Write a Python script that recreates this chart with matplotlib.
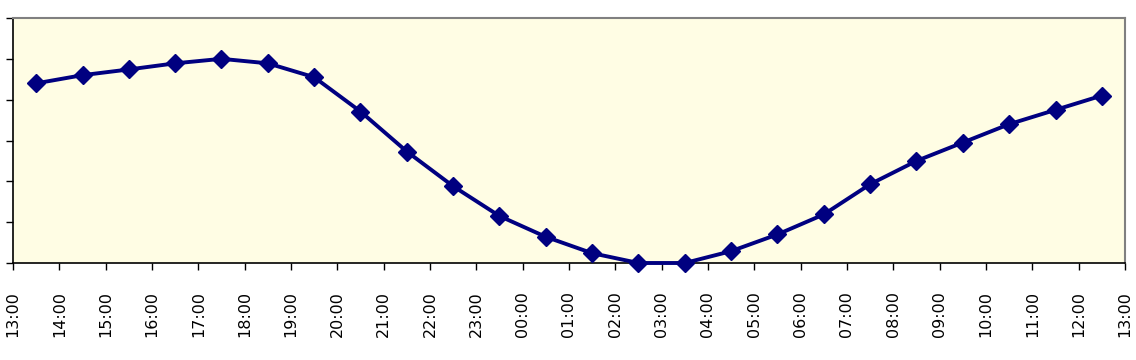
import matplotlib
matplotlib.use("Agg")
import matplotlib.pyplot as plt
import numpy as np

hours = ["13:00", "14:00", "15:00", "16:00", "17:00", "18:00", "19:00", "20:00",
         "21:00", "22:00", "23:00", "00:00", "01:00", "02:00", "03:00", "04:00",
         "05:00", "06:00", "07:00", "08:00", "09:00", "10:00", "11:00", "12:00", "13:00"]
values = [4.40, 4.60, 4.74, 4.89, 5.00, 4.89, 4.55, 3.71, 2.73, 1.88, 1.15, 0.64,
          0.24, 0.00, 0.00, 0.29, 0.70, 1.19, 1.93, 2.50, 2.95, 3.40, 3.75, 4.10]

fig = plt.figure(figsize=(11.36, 3.6), dpi=100)
ax = fig.add_axes([13/1136, 1 - 263/360, (1125 - 13)/1136, (263 - 18)/360])
ax.set_facecolor("#FFFDE4")

x = np.arange(len(values)) + 0.5
ax.plot(x, values, color="#000080", lw=2.8, marker="D", markersize=9.5,
        markerfacecolor="#000080", markeredgecolor="#000080", clip_on=False, zorder=3)

ax.set_xlim(0, 24)
ax.set_ylim(0, 6)
ax.set_xticks(np.arange(len(hours)))
ax.set_xticklabels(hours, rotation=90, fontsize=11.5, family="DejaVu Sans")
ax.set_yticks(np.arange(0, 7))
ax.set_yticklabels([])
ax.tick_params(axis="x", direction="out", length=5, width=1, pad=15, color="black")
ax.tick_params(axis="y", direction="out", length=5, width=1, color="black")

for s in ["left", "bottom"]:
    ax.spines[s].set_color("black")
    ax.spines[s].set_linewidth(1.2)
for s in ["top", "right"]:
    ax.spines[s].set_color("#808080")
    ax.spines[s].set_linewidth(1.5)

fig.savefig("out.png", dpi=100)
